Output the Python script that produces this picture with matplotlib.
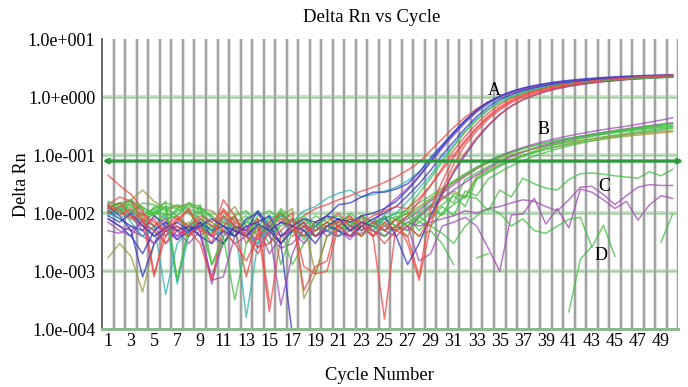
import numpy as np
import matplotlib
matplotlib.use("Agg")
import matplotlib.pyplot as plt

nan = np.nan
plt.rcParams['font.family'] = ['Liberation Serif', 'DejaVu Serif']

cycles = list(range(1, 51))
threshold = 0.079
y_ticks = [1e-4, 1e-3, 1e-2, 1e-1, 1e0, 1e1]
y_tick_labels = ["1.0e-004", "1.0e-003", "1.0e-002", "1.0e-001", "1.0+e000", "1.0e+001"]
x_tick_values = list(range(1, 50, 2))

# ---- group A (early amplification, high plateau) ----
a1_red = [0.045, 0.03, 0.021, 0.012, 0.0009, 0.004, 0.008, 0.011, 0.006, 0.004,
          0.017, 0.009, 0.003, 0.006, 0.0002, 0.004, 0.006, 0.009, 0.012, 0.014,
          0.017, 0.02, 0.024, 0.028, 0.034, 0.042, 0.055, 0.075, 0.12, 0.19,
          0.3, 0.45, 0.63, 0.82, 1.0, 1.17, 1.32, 1.45, 1.57, 1.67,
          1.76, 1.84, 1.91, 1.97, 2.03, 2.08, 2.13, 2.18, 2.22, 2.26]
a2_cyan = [0.009, 0.012, 0.007, 0.004, 0.006, 0.0004, 0.003, 0.005, 0.008, 0.006,
           0.004, 0.007, 0.00016, 0.003, 0.006, 0.009, 0.007, 0.011, 0.013, 0.018,
           0.022, 0.025, 0.019, 0.021, 0.024, 0.028, 0.036, 0.052, 0.085, 0.14,
           0.23, 0.37, 0.55, 0.75, 0.95, 1.12, 1.28, 1.42, 1.54, 1.65,
           1.74, 1.82, 1.9, 1.96, 2.02, 2.07, 2.12, 2.16, 2.2, 2.23]
a3_blue = [0.013, 0.009, 0.005, 0.0008, 0.003, 0.005, 0.006, 0.0045, 0.007, 0.005,
           0.006, 0.004, 0.008, 0.01, 0.005, 0.003, 0.00008, nan, 0.006, 0.009,
           0.014, 0.015, 0.019, 0.023, 0.023, 0.026, 0.032, 0.05, 0.09, 0.15,
           0.25, 0.4, 0.6, 0.82, 1.03, 1.22, 1.4, 1.55, 1.68, 1.79,
           1.88, 1.96, 2.03, 2.1, 2.16, 2.22, 2.27, 2.31, 2.35, 2.4]
a4_purple = [0.006, nan, 0.009, 0.005, 0.003, 0.007, 0.004, 0.006, 0.005, 0.0007,
             0.0008, 0.004, 0.006, 0.0025, 0.005, 0.00026, 0.002, 0.006, 0.004, 0.005,
             0.004, 0.006, 0.005, 0.007, 0.012, 0.018, 0.027, 0.045, 0.075, 0.13,
             0.22, 0.36, 0.56, 0.78, 1.0, 1.2, 1.37, 1.52, 1.65, 1.76,
             1.85, 1.93, 2.0, 2.06, 2.12, 2.17, 2.22, 2.26, 2.3, 2.33]
a5_blue = [0.011, 0.008, 0.006, 0.005, 0.009, 0.006, 0.0035, 0.005, 0.007, 0.004,
           0.003, 0.006, 0.005, 0.011, 0.006, 0.003, 0.005, 0.007, 0.004, 0.006,
           0.005, 0.004, 0.006, 0.008, 0.01, 0.013, 0.02, 0.032, 0.055, 0.1,
           0.17, 0.29, 0.46, 0.68, 0.9, 1.1, 1.28, 1.44, 1.58, 1.7,
           1.8, 1.89, 1.97, 2.04, 2.1, 2.16, 2.21, 2.26, 2.3, 2.34]
a6_cyan = [0.01, 0.008, 0.011, 0.007, 0.005, 0.009, 0.0006, 0.004, 0.006, 0.005,
           0.008, 0.006, 0.004, 0.003, 0.009, 0.007, 0.005, 0.004, 0.006, 0.005,
           0.004, 0.006, 0.007, 0.005, 0.008, 0.01, 0.016, 0.027, 0.045, 0.085,
           0.15, 0.26, 0.42, 0.62, 0.83, 1.03, 1.2, 1.36, 1.5, 1.62,
           1.72, 1.8, 1.87, 1.93, 1.99, 2.04, 2.08, 2.12, 2.16, 2.19]
a7_red = [0.014, 0.019, 0.016, 0.008, 0.0008, 0.006, 0.009, 0.005, 0.003, 0.0007,
          0.006, 0.009, 0.004, 0.002, 0.005, 0.007, 0.01, 0.00047, 0.0012, 0.0015,
          0.008, 0.005, 0.009, 0.004, 0.00015, 0.006, 0.009, 0.016, 0.03, 0.06,
          0.12, 0.21, 0.35, 0.53, 0.74, 0.95, 1.14, 1.3, 1.45, 1.57,
          1.68, 1.78, 1.86, 1.94, 2.0, 2.07, 2.13, 2.18, 2.23, 2.28]
a8_red = [0.012, 0.015, 0.009, 0.006, 0.008, 0.004, 0.007, 0.012, 0.005, 0.004,
          0.009, 0.006, 0.0008, 0.005, 0.007, 0.01, 0.006, 0.004, 0.007, 0.009,
          0.006, 0.004, 0.007, 0.005, 0.003, 0.005, 0.004, 0.0008, 0.012, 0.035,
          0.09, 0.17, 0.29, 0.45, 0.64, 0.85, 1.04, 1.21, 1.36, 1.5,
          1.62, 1.72, 1.81, 1.89, 1.96, 2.03, 2.09, 2.15, 2.2, 2.25]
a9_red = [0.01, 0.013, 0.017, 0.01, 0.006, 0.008, 0.005, 0.004, 0.006, 0.003,
          0.012, 0.007, 0.005, 0.008, 0.0003, nan, 0.004, 0.006, 0.005, 0.007,
          0.01, 0.006, 0.004, 0.007, 0.005, 0.008, 0.003, 0.0007, 0.006, 0.025,
          0.07, 0.15, 0.26, 0.42, 0.6, 0.8, 0.99, 1.16, 1.32, 1.46,
          1.58, 1.69, 1.78, 1.87, 1.95, 2.02, 2.09, 2.15, 2.2, 2.26]
a10_blue = [0.008, 0.006, 0.004, 0.002, 0.005, 0.007, 0.005, 0.006, 0.004, 0.003,
            0.005, 0.004, 0.006, 0.007, 0.009, 0.004, 0.006, 0.005, 0.003, 0.006,
            0.008, 0.005, 0.007, 0.006, 0.009, 0.004, 0.0013, 0.003, 0.009, 0.022,
            0.05, 0.1, 0.19, 0.32, 0.5, 0.7, 0.9, 1.08, 1.25, 1.4,
            1.53, 1.65, 1.75, 1.84, 1.92, 2.0, 2.07, 2.13, 2.19, 2.24]
a11_red = [nan, 0.009, 0.012, 0.007, 0.005, 0.003, 0.006, 0.004, 0.008, 0.006,
           0.005, 0.003, 0.0015, 0.004, 0.006, 0.008, 0.005, 0.007, 0.004, 0.006,
           0.007, 0.009, 0.006, 0.004, 0.007, 0.005, 0.006, 0.004, 0.008, 0.02,
           0.055, 0.11, 0.2, 0.33, 0.5, 0.7, 0.9, 1.08, 1.25, 1.4,
           1.54, 1.66, 1.77, 1.87, 1.96, 2.04, 2.12, 2.19, 2.26, 2.33]
a12_green = [0.015, 0.014, 0.017, 0.012, 0.01, 0.016, 0.0007, 0.006, 0.014, 0.0013,
             0.004, 0.00032, 0.003, 0.006, 0.005, 0.01, 0.007, 0.009, 0.006, 0.008,
             0.009, 0.007, 0.008, 0.006, 0.009, 0.008, 0.012, 0.022, 0.04, 0.075,
             0.14, 0.25, 0.4, 0.6, 0.8, 1.0, 1.17, 1.32, 1.46, 1.58,
             1.68, 1.77, 1.85, 1.92, 1.98, 2.03, 2.08, 2.12, 2.16, 2.2]
a13_blue = [0.009, 0.007, 0.01, 0.006, 0.004, 0.0055, 0.007, 0.005, 0.006, 0.008,
            0.006, 0.005, 0.004, 0.0065, 0.005, 0.007, 0.006, 0.008, 0.007, 0.009,
            0.008, 0.007, 0.009, 0.01, 0.012, 0.016, 0.025, 0.042, 0.078, 0.14,
            0.24, 0.39, 0.59, 0.82, 1.04, 1.25, 1.43, 1.58, 1.72, 1.84,
            1.94, 2.03, 2.11, 2.18, 2.24, 2.29, 2.33, 2.37, 2.4, 2.43]
a14_red = [0.013, 0.011, 0.008, 0.01, 0.007, 0.005, 0.008, 0.006, 0.009, 0.007,
           0.011, 0.006, 0.004, 0.0026, 0.003, 0.005, 0.008, 0.0012, 0.0009, 0.001,
           0.006, 0.008, 0.007, 0.009, 0.011, 0.013, 0.012, 0.018, 0.03, 0.055,
           0.1, 0.18, 0.3, 0.47, 0.67, 0.88, 1.08, 1.26, 1.42, 1.56,
           1.69, 1.8, 1.9, 1.99, 2.07, 2.15, 2.22, 2.29, 2.35, 2.4]

# ---- group B (later amplification, low plateau) ----
b1_green = [0.013, 0.01, 0.015, 0.007, 0.013, 0.011, 0.014, 0.012, 0.01, 0.007,
            0.0045, 0.009, 0.011, 0.006, 0.003, 0.007, 0.005, 0.008, 0.006, 0.009,
            0.006, 0.01, 0.007, 0.005, 0.008, 0.006, 0.009, 0.012, 0.017, 0.024,
            0.034, 0.046, 0.062, 0.08, 0.098, 0.115, 0.132, 0.148, 0.164, 0.18,
            0.196, 0.21, 0.225, 0.24, 0.254, 0.268, 0.282, 0.296, 0.31, 0.322]
b2_purple = [0.007, 0.005, 0.004, 0.008, 0.006, 0.003, 0.005, 0.004, 0.0065, 0.005,
             0.007, 0.006, 0.004, 0.0035, 0.005, 0.003, 0.006, 0.004, 0.005, 0.007,
             0.005, 0.004, 0.006, 0.005, 0.004, 0.006, 0.008, 0.011, 0.016, 0.022,
             0.031, 0.043, 0.058, 0.075, 0.095, 0.115, 0.135, 0.155, 0.175, 0.195,
             0.215, 0.235, 0.255, 0.275, 0.295, 0.315, 0.34, 0.37, 0.4, 0.44]
b3_green = [0.011, 0.013, 0.014, 0.009, 0.012, 0.015, 0.013, 0.011, 0.008, 0.005,
            0.007, 0.009, 0.004, 0.005, 0.008, 0.01, 0.006, 0.004, 0.007, 0.005,
            0.008, 0.006, 0.009, 0.007, 0.005, 0.008, 0.006, 0.01, 0.014, 0.02,
            0.015, 0.038, 0.05, 0.064, 0.08, 0.097, 0.113, 0.13, 0.147, 0.163,
            0.18, 0.196, 0.212, 0.228, 0.243, 0.258, 0.273, 0.288, 0.302, 0.316]
b4_olive = [0.0017, 0.003, 0.0018, 0.00044, 0.003, 0.006, 0.005, 0.007, 0.004, 0.006,
            0.008, 0.013, 0.006, 0.004, 0.007, 0.009, 0.012, 0.00034, 0.0009, 0.004,
            0.006, 0.005, 0.004, 0.007, 0.005, 0.006, 0.004, 0.009, 0.012, 0.017,
            0.024, 0.019, 0.043, 0.056, 0.07, 0.085, 0.1, 0.113, 0.126, 0.139,
            0.152, 0.165, 0.177, 0.189, 0.2, 0.211, 0.222, 0.232, 0.242, 0.252]
b5_green = [0.01, 0.012, 0.008, 0.006, 0.011, 0.008, 0.009, 0.015, 0.013, 0.008,
            0.006, 0.004, 0.007, 0.011, 0.005, 0.012, 0.008, 0.006, 0.009, 0.007,
            0.005, 0.008, 0.006, 0.004, 0.007, 0.009, 0.006, 0.008, 0.014, 0.009,
            0.022, 0.018, 0.04, 0.052, 0.066, 0.08, 0.095, 0.11, 0.126, 0.142,
            0.158, 0.174, 0.19, 0.206, 0.222, 0.238, 0.254, 0.27, 0.286, 0.3]
b6_purple = [nan, nan, 0.005, 0.004, 0.006, 0.005, 0.0035, 0.006, 0.004, 0.0008,
             0.003, 0.005, 0.0045, 0.006, 0.004, 0.0025, 0.003, 0.005, 0.006, 0.004,
             0.005, 0.0035, 0.006, 0.005, 0.004, 0.006, 0.005, 0.009, 0.013, 0.018,
             0.025, 0.034, 0.046, 0.06, 0.076, 0.094, 0.113, 0.132, 0.151, 0.17,
             0.189, 0.208, 0.227, 0.246, 0.265, 0.284, 0.303, 0.322, 0.341, 0.36]
b7_green = [0.014, 0.012, 0.011, 0.013, 0.009, 0.007, 0.012, 0.01, 0.006, 0.0045,
            0.009, 0.005, 0.007, 0.006, 0.009, 0.0013, 0.005, 0.007, 0.004, 0.006,
            0.008, 0.005, 0.007, 0.006, 0.004, 0.006, 0.009, 0.005, 0.008, 0.013,
            0.009, 0.024, 0.02, 0.039, 0.051, 0.065, 0.08, 0.096, 0.112, 0.128,
            0.144, 0.16, 0.176, 0.192, 0.208, 0.224, 0.24, 0.256, 0.272, 0.29]
b8_olive = [0.013, 0.015, 0.017, 0.025, 0.016, 0.012, 0.013, 0.014, 0.012, 0.011,
            0.007, 0.005, 0.004, 0.008, 0.006, 0.009, 0.005, 0.007, 0.0009, 0.004,
            0.006, 0.008, 0.005, 0.007, 0.006, 0.008, 0.01, 0.013, 0.018, 0.025,
            0.034, 0.045, 0.059, 0.073, 0.088, 0.102, 0.115, 0.128, 0.141, 0.154,
            0.167, 0.179, 0.191, 0.203, 0.214, 0.225, 0.236, 0.246, 0.256, 0.265]
b9_green = [0.012, 0.01, 0.009, 0.007, 0.01, 0.013, 0.0007, 0.005, 0.011, 0.009,
            0.005, 0.007, 0.009, 0.006, 0.004, 0.011, 0.006, 0.008, 0.005, 0.007,
            0.006, 0.009, 0.005, 0.007, 0.008, 0.006, 0.005, 0.007, 0.01, 0.014,
            0.02, 0.013, 0.038, 0.05, 0.064, 0.08, 0.098, 0.117, 0.136, 0.155,
            0.174, 0.193, 0.212, 0.231, 0.25, 0.27, 0.29, 0.31, 0.33, 0.35]
b10_green = [0.016, 0.013, 0.01, 0.015, 0.014, 0.012, 0.009, 0.006, 0.008, 0.005,
             0.009, 0.006, 0.005, 0.003, 0.007, 0.005, 0.0013, 0.003, 0.005, 0.006,
             0.008, 0.006, 0.009, 0.007, 0.008, 0.01, 0.011, 0.015, 0.02, 0.027,
             0.036, 0.048, 0.062, 0.077, 0.093, 0.11, 0.127, 0.144, 0.161, 0.178,
             0.195, 0.212, 0.229, 0.246, 0.263, 0.28, 0.297, 0.314, 0.331, 0.348]

# ---- group C (noisy, no clear amplification) ----
c1_green = [0.014, 0.012, 0.016, 0.011, 0.009, 0.013, 0.012, 0.015, 0.011, 0.006,
            0.003, 0.006, 0.004, 0.009, 0.011, 0.008, 0.006, 0.0035, 0.007, 0.005,
            0.004, 0.006, 0.009, 0.007, 0.005, 0.008, 0.01, 0.007, 0.006, 0.01,
            0.014, 0.02, 0.018, 0.011, 0.025, 0.019, 0.04, 0.032, 0.027, 0.025,
            0.038, 0.048, 0.049, 0.047, 0.044, 0.042, 0.04, 0.052, 0.044, 0.057]
c2_purple = [0.005, 0.0045, 0.006, 0.004, 0.003, 0.005, 0.004, 0.006, 0.0055, 0.004,
             0.005, 0.003, 0.004, 0.006, 0.002, 0.004, 0.005, 0.006, 0.004, 0.005,
             0.006, 0.004, 0.0045, 0.006, 0.005, 0.004, 0.006, 0.0015, 0.002, 0.006,
             0.007, 0.0085, 0.006, 0.0025, 0.001, 0.0093, 0.0097, 0.018, 0.0065, 0.012,
             0.0056, 0.026, 0.023, 0.017, 0.012, 0.016, 0.0076, 0.014, 0.02, 0.018]
c3_purple = [0.008, 0.006, 0.005, 0.007, 0.004, 0.006, 0.005, 0.003, 0.005, 0.0006,
             0.004, 0.006, 0.005, 0.0035, 0.006, 0.004, 0.005, 0.003, 0.006, 0.005,
             0.004, 0.005, 0.006, 0.004, 0.006, 0.005, 0.007, 0.006, 0.007, 0.008,
             0.009, 0.011, 0.01, 0.012, 0.013, 0.015, 0.017, 0.016, 0.013, 0.011,
             0.017, 0.028, 0.029, 0.021, 0.014, 0.02, 0.028, 0.031, 0.03, 0.03]

# ---- group D (fragments, mostly negative) ----
d1_green = [0.012, 0.015, 0.011, 0.008, 0.006, 0.01, 0.008, 0.005, 0.007, 0.0013,
            0.003, 0.005, 0.008, 0.004, 0.006, 0.003, 0.005, 0.004, 0.007, 0.006,
            0.005, 0.007, 0.004, 0.006, 0.005, 0.008, 0.006, 0.004, 0.005, 0.003,
            0.0013, nan, 0.0017, 0.002, nan, nan, nan, nan, nan, nan,
            0.0002, 0.0016, 0.0027, nan, nan, nan, nan, nan, nan, nan]
d2_green = [0.01, 0.011, 0.013, 0.009, 0.012, 0.009, 0.011, 0.013, 0.012, 0.009,
            0.006, 0.008, 0.005, 0.007, 0.0045, 0.006, 0.008, 0.005, 0.004, 0.006,
            0.007, 0.005, 0.006, 0.008, 0.0065, 0.005, 0.007, 0.009, 0.006, 0.0045,
            0.003, 0.006, 0.009, 0.012, 0.01, 0.006, 0.008, 0.005, 0.0045, 0.006,
            0.0078, 0.0085, 0.0026, 0.0062, 0.0018, nan, nan, nan, 0.0032, 0.0095]

colors = {
    "red": "#f04848", "blue": "#3434c8", "cyan": "#30b4b4",
    "green": "#44bf44", "purple": "#a04cb6", "olive": "#98983e",
}

back_series = [
    ("green", b1_green), ("purple", b2_purple), ("green", b3_green), ("olive", b4_olive),
    ("green", b5_green), ("purple", b6_purple), ("green", b7_green), ("olive", b8_olive),
    ("green", b9_green), ("green", b10_green),
    ("green", c1_green), ("purple", c2_purple), ("purple", c3_purple),
    ("green", d1_green), ("green", d2_green),
]
front_series = [
    ("red", a1_red), ("cyan", a2_cyan), ("blue", a3_blue), ("purple", a4_purple),
    ("blue", a5_blue), ("cyan", a6_cyan), ("red", a7_red), ("red", a8_red),
    ("red", a9_red), ("blue", a10_blue), ("red", a11_red), ("green", a12_green),
    ("blue", a13_blue), ("red", a14_red),
]

fig = plt.figure(figsize=(6.88, 3.87), dpi=100)
ax = fig.add_axes([0.1487, 0.1491, 0.8372, 0.7501])
ax.set_yscale("log")
ax.set_xlim(0.5, 50.5)
ax.set_ylim(1e-4, 1e1)

# grid: cycle boundaries (gray) and decade lines (green)
for xb in np.arange(1.5, 51.0, 1.0):
    ax.axvline(xb, color="#dcdcdc", lw=2.6, zorder=0.5)
    ax.axvline(xb, color="#929292", lw=1.1, zorder=0.65)
for yv in y_ticks[1:-1]:
    ax.axhline(yv, color="#cbe6cb", lw=3.0, zorder=0.55)
    ax.axhline(yv, color="#98cf98", lw=1.0, zorder=0.6)

for cname, vals in back_series:
    ax.plot(cycles, vals, color=colors[cname], lw=1.1, alpha=0.75, zorder=2)
for cname, vals in front_series:
    ax.plot(cycles, vals, color=colors[cname], lw=1.1, alpha=0.75, zorder=2.2)

# threshold with arrow heads
ax.annotate("", xy=(50.95, threshold), xytext=(0.5, threshold),
            arrowprops=dict(arrowstyle="<|-|>", color="#2f9a3c", lw=2.4,
                            mutation_scale=6, shrinkA=0, shrinkB=0),
            annotation_clip=False, zorder=3)

# group letters
for letter, lx, ly in [("A", 34.5, 1.32), ("B", 38.8, 0.28), ("C", 44.05, 0.029), ("D", 43.8, 0.0019)]:
    ax.text(lx, ly, letter, fontsize=13, ha="center", va="center", zorder=4)

ax.set_yticks(y_ticks)
ax.set_yticklabels(y_tick_labels)
ax.yaxis.set_minor_locator(matplotlib.ticker.NullLocator())
ax.set_xticks(x_tick_values)
ax.set_xticklabels([str(v) for v in x_tick_values])
ax.tick_params(axis="both", length=0, labelsize=13)
ax.tick_params(axis="y", pad=5)
ax.tick_params(axis="x", pad=3)

for s in ["top", "right"]:
    ax.spines[s].set_visible(False)
ax.spines["left"].set_color("#5f6b63")
ax.spines["left"].set_linewidth(1.4)
ax.spines["bottom"].set_color("#8cba8c")
ax.spines["bottom"].set_linewidth(2.2)

fig.text(372 / 688, 1 - 17 / 387, "Delta Rn vs Cycle", ha="center", va="center", fontsize=13.5)
fig.text(379 / 688, 1 - 376 / 387, "Cycle Number", ha="center", va="center", fontsize=13.3)
fig.text(22 / 688, 1 - 185 / 387, "Delta Rn", ha="center", va="center", rotation=90, fontsize=13)

fig.savefig("out.png", dpi=100)
